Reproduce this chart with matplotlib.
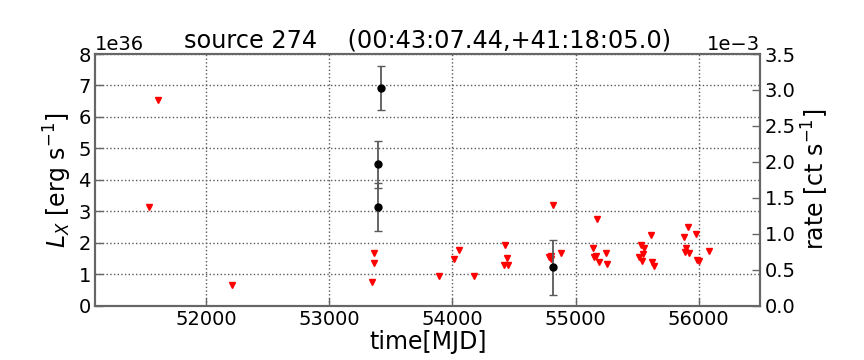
import matplotlib
matplotlib.use('Agg')
import matplotlib.pyplot as plt
import numpy as np

# detections (L_X in 1e36 erg/s)
det_mjd = np.array([53423, 53398, 53398, 54821])
det_lx = np.array([6.93, 4.49, 3.13, 1.22])
det_err = np.array([0.70, 0.76, 0.76, 0.88])

# upper limits (L_X in 1e36 erg/s)
ul_mjd = np.array([51534, 51610, 52214, 53347, 53366, 53368, 53889, 54011, 54054,
                   54173, 54417, 54425, 54445, 54455, 54783, 54797, 54805, 54821,
                   54886, 55144, 55154, 55165, 55176, 55187, 55247, 55258, 55518,
                   55528, 55537, 55547, 55555, 55612, 55620, 55634, 55881, 55889,
                   55900, 55911, 55921, 55978, 55989, 56000, 56084])
ul_lx = np.array([3.13, 6.54, 0.65, 0.74, 1.67, 1.37, 0.94, 1.47, 1.77,
                  0.94, 1.28, 1.93, 1.53, 1.28, 1.55, 1.49, 1.58, 3.20,
                  1.68, 1.83, 1.56, 1.58, 2.76, 1.38, 1.67, 1.32, 1.54,
                  1.92, 1.43, 1.65, 1.83, 2.26, 1.40, 1.27, 2.17, 1.70,
                  1.84, 2.49, 1.68, 2.28, 1.45, 1.41, 1.75])

fig = plt.figure(figsize=(8.64, 3.6), dpi=100)
ax = fig.add_axes([0.110, 0.151, 0.770, 0.699])
ax2 = ax.twinx()

ax.plot(ul_mjd, ul_lx * 1e36, 'v', color='red', markersize=4.5, markeredgecolor='red')
ax.errorbar(det_mjd, det_lx * 1e36, yerr=det_err * 1e36, fmt='o', color='black',
            markersize=5, ecolor='0.35', elinewidth=1.3, capsize=3, capthick=1)

ax.set_xlim(51100, 56500)
ax.set_ylim(0, 8e36)
ax2.set_ylim(0, 3.5e-3)
ax.set_xticks([52000, 53000, 54000, 55000, 56000])
ax.set_yticks(np.arange(0, 9) * 1e36)
ax2.set_yticks(np.arange(0, 8) * 0.5e-3)
ax2.ticklabel_format(axis='y', style='sci', scilimits=(0, 0))

ax.grid(True, color='0.35', linestyle=':', linewidth=1)

for a in (ax, ax2):
    for s in a.spines.values():
        s.set_color('0.4')
        s.set_linewidth(1.5)
    a.tick_params(direction='in', length=6, width=1, color='0.4', labelsize=14, pad=3)
    a.yaxis.get_offset_text().set_fontsize(14)

ax.set_xlabel('time[MJD]', fontsize=17, labelpad=1)
ax.set_ylabel(r'$L_X$ [erg s$^{-1}$]', fontsize=17, labelpad=3)
ax2.set_ylabel(r'rate [ct s$^{-1}$]', fontsize=17, labelpad=3)
ax.set_title('source 274    (00:43:07.44,+41:18:05.0)', fontsize=17.3, pad=5)

fig.savefig('out.png', dpi=100)
